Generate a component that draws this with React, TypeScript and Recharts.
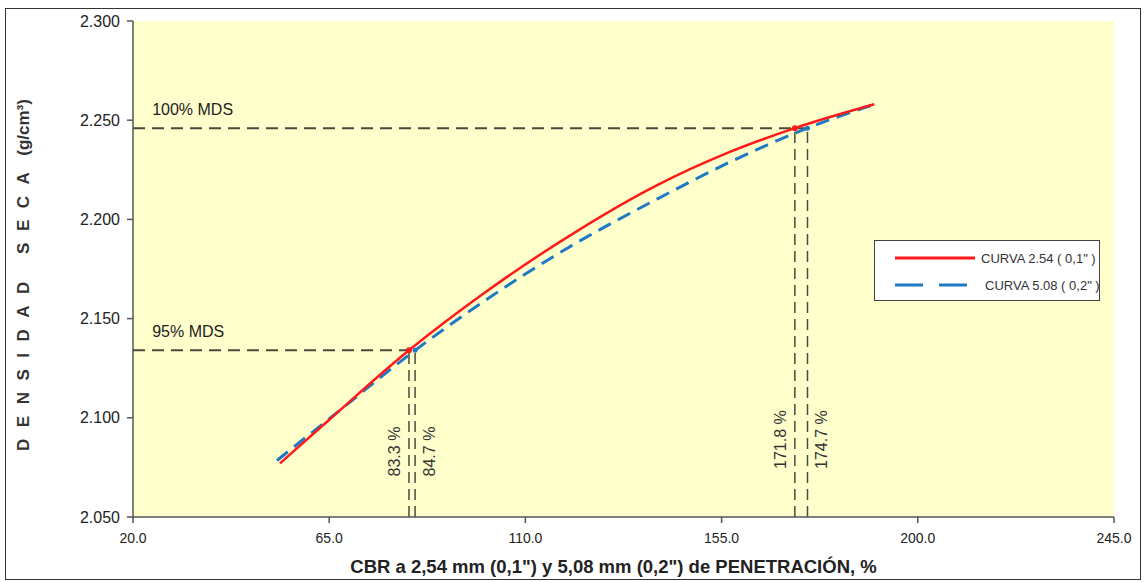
import React from "react";
import {
  LineChart,
  Line,
  XAxis,
  YAxis,
  ReferenceArea,
  ReferenceLine,
  ReferenceDot,
  Label,
} from "recharts";

// curva 2.54 mm (0,1")
const redX = [53.7, 65, 83.3, 100, 122.5, 140, 156.9, 171.8, 190];
const redY = [2.077, 2.099, 2.134, 2.162, 2.195, 2.217, 2.234, 2.246, 2.258];

// curva 5.08 mm (0,2")
const blueX = [53, 65, 84.7, 100, 120, 140, 157, 174.7, 190];
const blueY = [2.0785, 2.0995, 2.134, 2.158, 2.186, 2.21, 2.229, 2.246, 2.258];

const xTicks = [20, 65, 110, 155, 200, 245];
const yTicks = [2.05, 2.1, 2.15, 2.2, 2.25, 2.3];

const mdsLevels = [2.246, 2.134]; // 100% MDS, 95% MDS
const mdsLabels = ["100% MDS", "95% MDS"];
const cbrRed = [171.8, 83.3];
const cbrBlue = [174.7, 84.7];

const redData = redX.map((x, i) => ({ x, y: redY[i] }));
const blueData = blueX.map((x, i) => ({ x, y: blueY[i] }));

const RED = "#FF1A1A";
const BLUE = "#1F7AC4";
const GUIDE = "#4A4A3E";
const FONT = "'Liberation Sans', Arial, sans-serif";

const YTitle = (props: any) => {
  const vb = props.viewBox;
  const cx = vb.x + 17;
  const cy = vb.y + vb.height / 2 + 6;
  return (
    <text
      x={cx}
      y={cy}
      transform={`rotate(-90 ${cx} ${cy})`}
      textAnchor="middle"
      dominantBaseline="central"
      fontFamily={FONT}
      fontWeight="bold"
      fontSize={17}
      fill="#333"
    >
      <tspan letterSpacing={11.5}>DENSIDAD SECA</tspan>
      <tspan dx={5}>(g/cm³)</tspan>
    </text>
  );
};

const XTitle = (props: any) => {
  const vb = props.viewBox;
  return (
    <text
      x={vb.x + vb.width / 2 - 10}
      y={vb.y + 56}
      textAnchor="middle"
      fontFamily={FONT}
      fontWeight="bold"
      fontSize={18.5}
      fill="#222"
    >
      CBR a 2,54 mm (0,1") y 5,08 mm (0,2") de PENETRACIÓN, %
    </text>
  );
};

const vText = (value: string, dx: number) => (p: any) => {
  const x = p.cx + dx;
  const y = p.cy;
  return (
    <text
      x={x}
      y={y}
      transform={`rotate(-90 ${x} ${y})`}
      textAnchor="middle"
      dominantBaseline="central"
      fontFamily={FONT}
      fontSize={16}
      fill="#333"
    >
      {value}
    </text>
  );
};

const hText = (value: string) => (p: any) => (
  <text x={p.cx} y={p.cy} fontFamily={FONT} fontSize={16} fill="#222">
    {value}
  </text>
);

const LegendBox = () => (
  <div
    style={{
      position: "absolute",
      left: 868,
      top: 231,
      width: 226,
      height: 61,
      background: "#fff",
      border: "1px solid #444",
      fontFamily: FONT,
      fontSize: 13,
      color: "#333",
      boxSizing: "border-box",
      whiteSpace: "nowrap",
    }}
  >
    <div style={{ display: "flex", alignItems: "center", height: 28, marginTop: 3 }}>
      <svg width={88} height={10} style={{ marginLeft: 18, flexShrink: 0 }}>
        <line x1={2} y1={5} x2={82} y2={5} stroke={RED} strokeWidth={3} />
      </svg>
      <span>CURVA 2.54 ( 0,1" )</span>
    </div>
    <div style={{ display: "flex", alignItems: "center", height: 26 }}>
      <svg width={92} height={10} style={{ marginLeft: 18, flexShrink: 0 }}>
        <line x1={2} y1={5} x2={74} y2={5} stroke={BLUE} strokeWidth={3} strokeDasharray="28 16" />
      </svg>
      <span>CURVA 5.08 ( 0,2" )</span>
    </div>
  </div>
);

export default function App() {
  return (
    <div
      style={{
        position: "absolute",
        left: 5,
        top: 8,
        width: 1134,
        height: 570,
        border: "1px solid #333",
        background: "#fff",
      }}
    >
      <LineChart width={1134} height={570} margin={{ top: 12, right: 26, left: 0, bottom: 0 }}>
        <XAxis
          type="number"
          dataKey="x"
          domain={[20, 245]}
          ticks={xTicks}
          allowDataOverflow
          tickFormatter={(v: number) => v.toFixed(1)}
          height={62}
          stroke="#555"
          strokeWidth={1.5}
          tickSize={6}
          tickMargin={10}
          tick={{ fill: "#222", fontSize: 14, fontFamily: FONT }}
        >
          <Label content={XTitle} />
        </XAxis>
        <YAxis
          type="number"
          dataKey="y"
          domain={[2.05, 2.3]}
          ticks={yTicks}
          allowDataOverflow
          tickFormatter={(v: number) => v.toFixed(3)}
          width={127}
          stroke="#555"
          strokeWidth={1.5}
          tickSize={6}
          tickMargin={7}
          tick={{ fill: "#222", fontSize: 16, fontFamily: FONT }}
        >
          <Label content={YTitle} />
        </YAxis>
        <ReferenceArea x1={20} x2={245} y1={2.05} y2={2.3} fill="#FFFFCC" fillOpacity={1} stroke="none" />

        {mdsLevels.map((m, i) => (
          <ReferenceLine
            key={`h-${i}`}
            segment={[
              { x: 20, y: m },
              { x: cbrBlue[i], y: m },
            ]}
            stroke={GUIDE}
            strokeWidth={2}
            strokeDasharray="12 7"
          />
        ))}
        {mdsLevels.map((m, i) => (
          <ReferenceLine
            key={`vr-${i}`}
            segment={[
              { x: cbrRed[i], y: 2.05 },
              { x: cbrRed[i], y: m },
            ]}
            stroke={GUIDE}
            strokeWidth={1.5}
            strokeDasharray="11 6"
          />
        ))}
        {mdsLevels.map((m, i) => (
          <ReferenceLine
            key={`vb-${i}`}
            segment={[
              { x: cbrBlue[i], y: 2.05 },
              { x: cbrBlue[i], y: m },
            ]}
            stroke={GUIDE}
            strokeWidth={1.5}
            strokeDasharray="11 6"
          />
        ))}

        <Line
          data={blueData}
          dataKey="y"
          type="monotone"
          stroke={BLUE}
          strokeWidth={3}
          strokeDasharray="14 8"
          dot={false}
          isAnimationActive={false}
        />
        <Line
          data={redData}
          dataKey="y"
          type="monotone"
          stroke={RED}
          strokeWidth={2.5}
          dot={false}
          isAnimationActive={false}
        />

        {mdsLevels.map((m, i) => (
          <ReferenceDot key={`db-${i}`} x={cbrBlue[i]} y={m} r={2.5} fill={BLUE} stroke="none" />
        ))}
        {mdsLevels.map((m, i) => (
          <ReferenceDot key={`dr-${i}`} x={cbrRed[i]} y={m} r={3} fill={RED} stroke="none" />
        ))}

        {mdsLabels.map((t, i) => (
          <ReferenceDot
            key={`hl-${i}`}
            x={24.4}
            y={mdsLevels[i] + 0.0066}
            r={0}
            shape={hText(t)}
          />
        ))}
        {cbrRed.map((c, i) => (
          <ReferenceDot
            key={`tl-r-${i}`}
            x={c}
            y={i === 0 ? 2.089 : 2.083}
            r={0}
            shape={vText(`${c.toFixed(1)} %`, -14)}
          />
        ))}
        {cbrBlue.map((c, i) => (
          <ReferenceDot
            key={`tl-b-${i}`}
            x={c}
            y={i === 0 ? 2.089 : 2.083}
            r={0}
            shape={vText(`${c.toFixed(1)} %`, 14)}
          />
        ))}
      </LineChart>
      <LegendBox />
    </div>
  );
}
